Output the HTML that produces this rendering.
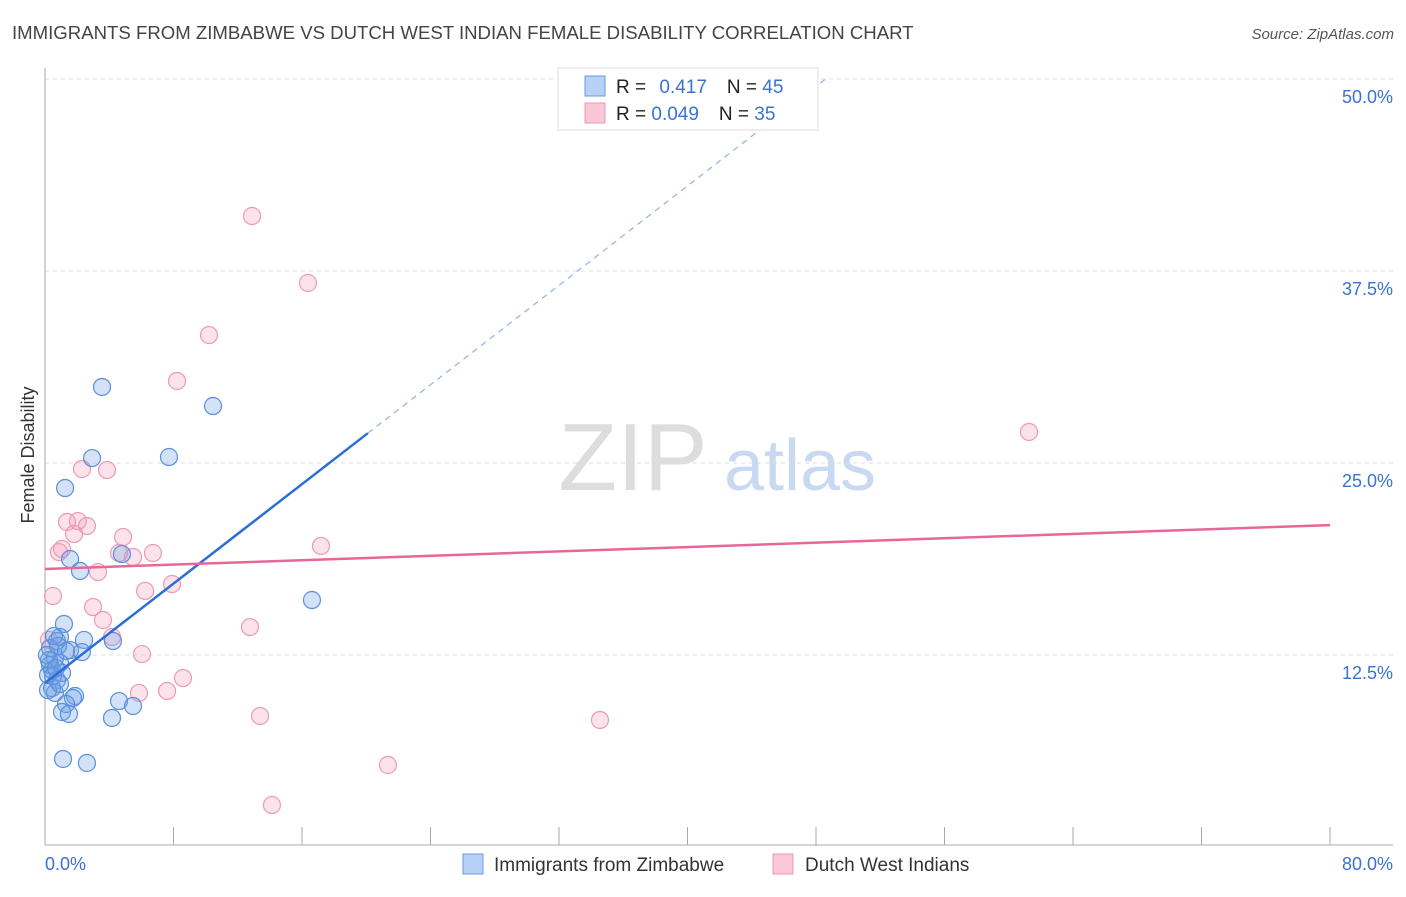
<!DOCTYPE html>
<html><head><meta charset="utf-8"><style>
body{margin:0;background:#fff;font-family:"Liberation Sans",sans-serif}
svg text{font-family:"Liberation Sans",sans-serif}
</style></head><body>
<svg id="c" width="1406" height="892">
<text x="12" y="39" font-size="18.6" fill="#444">IMMIGRANTS FROM ZIMBABWE VS DUTCH WEST INDIAN FEMALE DISABILITY CORRELATION CHART</text>
<text x="1394" y="39" font-size="15" fill="#555" font-style="italic" text-anchor="end">Source: ZipAtlas.com</text>
<text x="34" y="455" font-size="18" fill="#333" transform="rotate(-90 34 455)" text-anchor="middle">Female Disability</text>
<g><text x="633" y="490" font-size="96" fill="#ddd" text-anchor="middle" font-family="Liberation Serif,serif">ZIP</text><text x="800" y="490" font-size="72" fill="#c9d9f2" text-anchor="middle">atlas</text></g>
<g id="grid"></g><g id="axes"></g><g id="marks"></g>
<g>
<rect x="558" y="68" width="260" height="62" fill="#fff" stroke="#ddd"/>
<rect x="585" y="76" width="20" height="20" fill="#b7d0f5" stroke="#6a9ae0"/>
<rect x="585" y="103" width="20" height="20" fill="#f9c7d7" stroke="#ec9ab4"/>
<text x="616" y="93" font-size="19" fill="#222">R = <tspan fill="#3a72d0" dx="8">0.417</tspan><tspan dx="20" fill="#222">N = </tspan><tspan fill="#3a72d0">45</tspan></text>
<text x="616" y="120" font-size="19" fill="#222">R = <tspan fill="#3a72d0">0.049</tspan><tspan dx="20" fill="#222">N = </tspan><tspan fill="#3a72d0">35</tspan></text>
</g>
<g>
<rect x="463" y="854" width="20" height="20" fill="#b7d0f5" stroke="#6a9ae0"/>
<text x="494" y="871" font-size="19" fill="#333">Immigrants from Zimbabwe</text>
<rect x="773" y="854" width="20" height="20" fill="#f9c7d7" stroke="#ec9ab4"/>
<text x="805" y="871" font-size="19" fill="#333">Dutch West Indians</text>
</g>
</svg>
<script>
const blueX=[3.55,10.46,2.93,7.72,1.25,1.56,2.18,4.79,16.62,1.18,0.93,0.75,2.43,4.23,1.56,2.30,0.31,0.62,0.93,0.44,1.06,0.19,0.75,0.44,0.62,1.87,1.74,1.31,1.06,1.49,4.61,5.48,4.17,1.12,2.61,0.12,0.31,0.19,0.81,0.50,1.31,0.56,0.25,0.93,0.68];
const blueY=[29.95,28.71,25.32,25.39,23.37,18.75,17.97,19.07,16.08,14.52,13.67,13.41,13.48,13.41,12.82,12.69,12.95,12.30,11.98,11.52,11.33,11.20,10.87,10.35,10.03,9.83,9.70,9.31,8.79,8.66,9.50,9.18,8.40,5.73,5.47,12.50,11.85,10.22,13.09,11.13,12.76,13.74,12.17,10.61,11.65];
const pinkX=[12.89,16.37,10.21,8.22,61.26,2.30,3.86,1.37,2.05,2.61,1.81,4.86,0.87,1.06,4.61,5.48,6.72,17.18,3.30,7.91,6.23,0.50,2.99,3.61,12.76,4.17,6.04,8.59,7.60,5.85,13.39,34.55,21.35,14.13,0.25];
const pinkY=[41.08,36.72,33.33,30.34,27.02,24.61,24.54,21.16,21.22,20.90,20.38,20.18,19.20,19.40,19.14,18.88,19.14,19.60,17.90,17.12,16.67,16.34,15.62,14.78,14.32,13.67,12.56,11.00,10.16,10.03,8.53,8.27,5.34,2.73,13.48];
const blueTrend=[10.68,0.809];
const pinkTrend=[18.1,0.0357];
const yTicks=[12.5,25,37.5,50];
const xTickLabels=["0.0%","80.0%"];
const NS="http://www.w3.org/2000/svg";
const sx=v=>45+v/80*1285, sy=v=>847-v/12.5*192;
function mk(p,t,a){const e=document.createElementNS(NS,t);for(const k in a)e.setAttribute(k,a[k]);p.appendChild(e);return e;}
const grid=document.getElementById('grid'),axes=document.getElementById('axes'),marks=document.getElementById('marks');
yTicks.forEach(v=>{
 const l=mk(grid,'line',{x1:45,x2:1393,y1:sy(v),y2:sy(v),stroke:'#ddd','stroke-dasharray':'4,4'});
 
 
 const t=mk(grid,'text',{x:1393,y:sy(v)+24,'font-size':18,fill:'#3a72d0','text-anchor':'end'});t.textContent=v.toFixed(1)+'%';
 
 
});
const xa=mk(axes,'line',{x1:45,x2:1393,y1:845,y2:845,stroke:'#aaa'});


const ya=mk(axes,'line',{x1:45,x2:45,y1:68,y2:845,stroke:'#aaa'});


for(let i=1;i<=10;i++){const t=mk(axes,'line',{x1:sx(i*8),x2:sx(i*8),y1:827,y2:845,stroke:'#aaa'});
 
 }
[[0,'start',45],[80,'end',1393]].forEach((d,i)=>{const t=mk(axes,'text',{x:d[2],y:870,'font-size':18,fill:'#3a72d0','text-anchor':d[1]});t.textContent=xTickLabels[i];
 
 });
pinkX.forEach((x,i)=>{const c=mk(marks,'circle',{cx:sx(x),cy:sy(pinkY[i]),r:8.5,fill:'rgba(244,160,188,0.3)',stroke:'#ec9ab4','stroke-width':1.2});
 
 });
blueX.forEach((x,i)=>{const c=mk(marks,'circle',{cx:sx(x),cy:sy(blueY[i]),r:8.5,fill:'rgba(110,160,230,0.3)',stroke:'#5a8fdc','stroke-width':1.2});
 
 });
const bx1=20.1,bx2=(50-blueTrend[0])/blueTrend[1];
const b1=mk(marks,'line',{x1:sx(0),y1:sy(blueTrend[0]),x2:sx(bx1),y2:sy(blueTrend[0]+blueTrend[1]*bx1),stroke:'#2b6fd6','stroke-width':2.5});


const b2=mk(marks,'line',{x1:sx(bx1),y1:sy(blueTrend[0]+blueTrend[1]*bx1),x2:sx(bx2),y2:sy(blueTrend[0]+blueTrend[1]*bx2),stroke:'#8fb3e8','stroke-width':1.2,'stroke-dasharray':'6,5'});


const p1=mk(marks,'line',{x1:sx(0),y1:sy(pinkTrend[0]),x2:sx(80),y2:sy(pinkTrend[0]+pinkTrend[1]*80),stroke:'#e8679a','stroke-width':2.5});


</script>
</body></html>
